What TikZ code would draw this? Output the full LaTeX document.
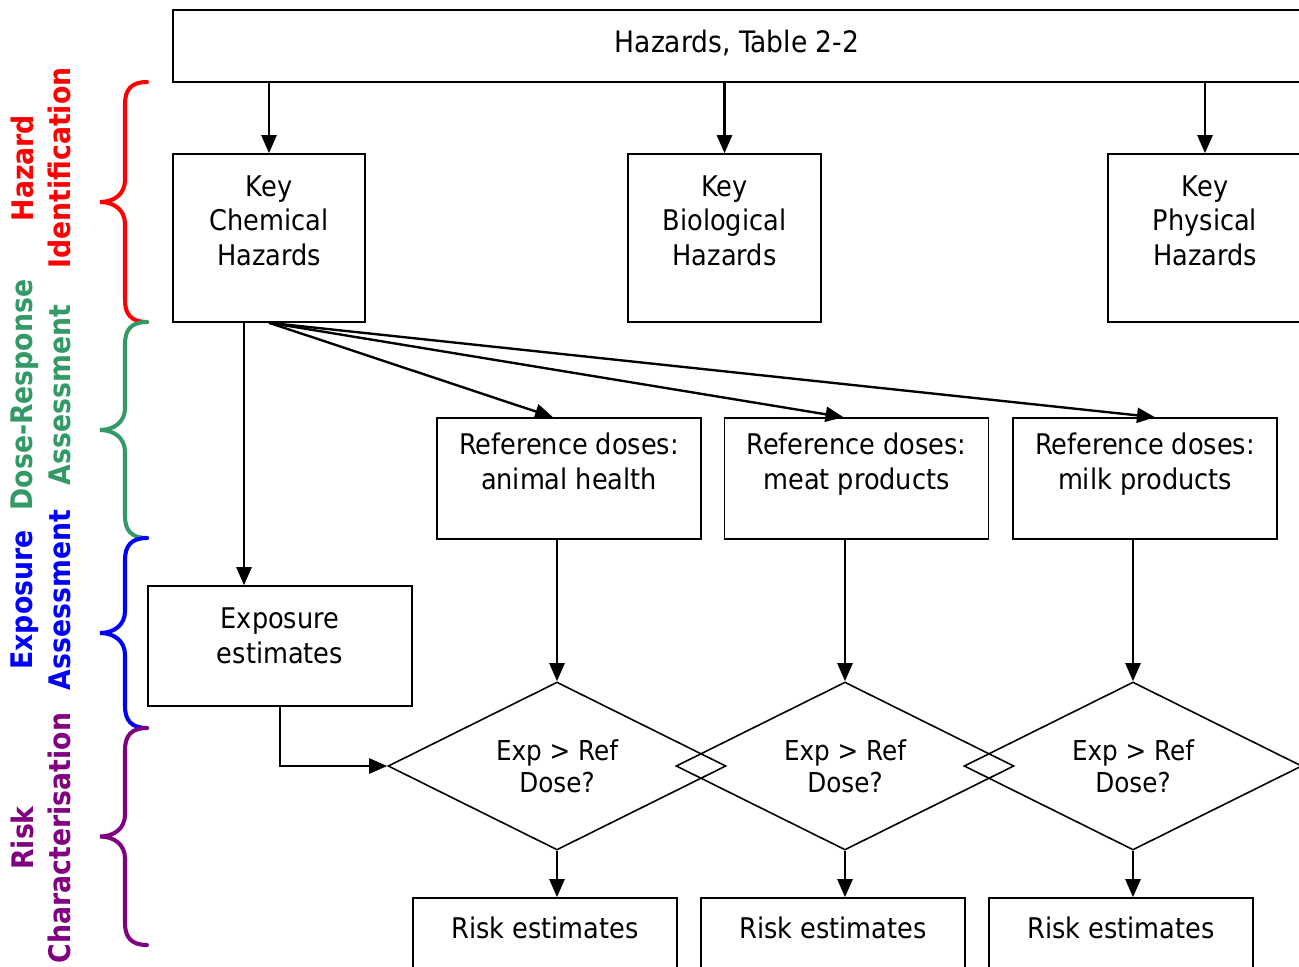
\documentclass[tikz,border=0pt]{standalone}
\usepackage{fontspec}
\setmainfont{DejaVu Sans Condensed}
\usepackage{tikz}
\usetikzlibrary{shapes.geometric, arrows.meta}
\definecolor{hazred}{RGB}{255,0,0}
\definecolor{dosegreen}{RGB}{51,153,102}
\definecolor{expblue}{RGB}{0,0,255}
\definecolor{riskpurple}{RGB}{128,0,128}

\begin{document}
\begin{tikzpicture}[x=0.02cm, y=-0.02cm,
        box/.style={draw, line width=0.9pt, align=center, inner sep=0pt, font=\fontsize{16.2}{19.8}\selectfont},
        decision/.style={draw, diamond, aspect=2, line width=0.9pt, align=center, inner sep=0pt, minimum width=6.76cm, minimum height=3.36cm, font=\fontsize{15.6}{18.1}\selectfont},
        phase/.style={rotate=90, align=center, font=\fontsize{16.9}{21.5}\selectfont\bfseries},
        flow/.style={-{Triangle[length=0.36cm, width=0.3cm]}, line width=1.35pt}]
            \useasboundingbox (0,0) rectangle (1299,967);
            \clip (0,0) rectangle (1299,967);
            \foreach \ytop/\ybot/\col in {82/322/hazred, 322/538/dosegreen, 538/728/expblue, 728/945/riskpurple}{
                \pgfmathsetmacro\ymid{(\ytop+\ybot)/2}
                \draw[\col, line width=2.3pt, line cap=round] (147,\ytop) .. controls (131,\ytop) and (125,\ytop+8) .. (125,\ytop+22) -- (125,\ymid-22) .. controls (125,\ymid-8) and (114,\ymid) .. (100,\ymid) .. controls (114,\ymid) and (125,\ymid+8) .. (125,\ymid+22) -- (125,\ybot-22) .. controls (125,\ybot-8) and (131,\ybot) .. (147,\ybot);
            }
            \node[phase, text=hazred] (hazlbl) at (41,168) {Hazard\\Identification};
            \node[phase, text=dosegreen] (doselbl) at (41,395) {Dose-Response\\Assessment};
            \node[phase, text=expblue] (explbl) at (41,600) {Exposure\\Assessment};
            \node[phase, text=riskpurple] (risklbl) at (41,838) {Risk\\Characterisation};
            \node[box, minimum width=22.56cm, minimum height=1.44cm, font=\fontsize{16.8}{19.8}\selectfont] (haz) at (737,46) {Hazards, Table 2-2\\[-14pt]\mbox{}};
            \node[box, minimum width=3.84cm, minimum height=3.36cm] (chem) at (269,238) {Key\\Chemical\\Hazards\\\mbox{}};
            \node[box, minimum width=3.86cm, minimum height=3.36cm] (bio) at (724.5,238) {Key\\Biological\\Hazards\\\mbox{}};
            \node[box, minimum width=3.88cm, minimum height=3.36cm] (phys) at (1205,238) {Key\\Physical\\Hazards\\\mbox{}};
            \node[box, minimum width=5.28cm, minimum height=2.42cm] (refanimal) at (569,478.5) {Reference doses:\\animal health\\\mbox{}};
            \node[box, minimum width=5.28cm, minimum height=2.42cm] (refmeat) at (856.5,478.5) {Reference doses:\\meat products\\\mbox{}};
            \node[box, minimum width=5.28cm, minimum height=2.42cm] (refmilk) at (1145,478.5) {Reference doses:\\milk products\\\mbox{}};
            \node[box, minimum width=5.28cm, minimum height=2.4cm] (expo) at (280,646) {Exposure\\estimates\\[-8pt]\mbox{}};
            \node[decision] (dec1) at (557,766) {Exp > Ref\\Dose?};
            \node[decision] (dec2) at (845,766) {Exp > Ref\\Dose?};
            \node[decision] (dec3) at (1133,766) {Exp > Ref\\Dose?};
            \node[box, minimum width=5.28cm, minimum height=1.88cm] (risk1) at (545,945) {Risk estimates\\\mbox{}};
            \node[box, minimum width=5.28cm, minimum height=1.88cm] (risk2) at (833,945) {Risk estimates\\\mbox{}};
            \node[box, minimum width=5.28cm, minimum height=1.88cm] (risk3) at (1121,945) {Risk estimates\\\mbox{}};
            \foreach \k in {chem, bio, phys}
                \draw[flow] (\k.north |- haz.south) -- (\k.north);
            \draw[flow] ([xshift=-0.5cm]chem.south) -- ([xshift=-0.5cm]chem.south |- expo.north);
            \draw[flow] (chem.south) -- ([xshift=-0.32cm]refanimal.north);
            \draw[flow] (chem.south) -- ([xshift=-0.26cm]refmeat.north);
            \draw[flow] (chem.south) -- ([xshift=0.2cm]refmilk.north);
            \foreach \r/\d in {refanimal/dec1, refmeat/dec2, refmilk/dec3}
                \draw[flow] (\d.north |- \r.south) -- (\d.north);
            \foreach \d/\r in {dec1/risk1, dec2/risk2, dec3/risk3}
                \draw[flow] (\d.south) -- (\d.south |- \r.north);
            \draw[flow] (expo.south) |- (dec1.west);
\end{tikzpicture}
\end{document}
